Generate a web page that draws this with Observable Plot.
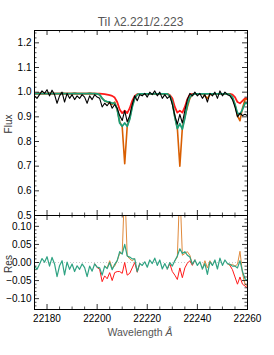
<!DOCTYPE html>
<html><head><meta charset="utf-8">
<script src="https://cdn.jsdelivr.net/npm/d3@7"></script>
<script src="https://cdn.jsdelivr.net/npm/@observablehq/plot@0.6"></script>
<style>
body{margin:0;background:#fff;}
#wrap{position:relative;width:274px;height:355px;font-family:"Liberation Sans",Arial,Helvetica,sans-serif;overflow:hidden;}
#wrap svg{position:absolute;left:0;overflow:visible;}
.t{position:absolute;white-space:nowrap;line-height:1;}
</style></head><body>
<div id="wrap">
<div class="t" id="title" style="left:140.5px;top:16px;transform:translateX(-50%);font-size:12px;color:#555;">TiI λ2.221/2.223</div>
<div class="t" style="left:8.5px;top:124px;transform:translate(-50%,-50%) rotate(-90deg);font-size:10px;color:#333;">Flux</div>
<div class="t" style="left:8.5px;top:264px;transform:translate(-50%,-50%) rotate(-90deg);font-size:10px;color:#333;">Res</div>
<div class="t" style="left:140px;top:327px;transform:translateX(-50%);font-size:10.5px;color:#555;">Wavelength <i>Å</i></div>
</div>
<script>
// ---- data, rows of 10 samples ----
const wavelength = [
  22175,22176,22177,22178,22179,22180,22181,22182,22183,22184,
  22185,22186,22187,22188,22189,22190,22191,22192,22193,22194,
  22195,22196,22197,22198,22199,22200,22201,22202,22203,22204,
  22205,22206,22207,22208,22209,22210,22211,22212,22213,22214,
  22215,22216,22217,22218,22219,22220,22221,22222,22223,22224,
  22225,22226,22227,22228,22229,22230,22231,22232,22233,22234,
  22235,22236,22237,22238,22239,22240,22241,22242,22243,22244,
  22245,22246,22247,22248,22249,22250,22251,22252,22253,22254,
  22255,22256,22257,22258,22259,22260];
const observed = [
  0.985,0.975,0.990,1.005,0.995,1.010,0.985,1.008,0.990,0.955,
  0.985,1.000,0.960,0.995,0.975,0.990,0.970,0.985,0.975,0.990,
  0.980,0.955,0.985,0.970,0.990,0.980,0.975,0.940,0.955,0.945,
  0.960,0.935,0.950,0.935,0.905,0.885,0.925,0.880,0.905,0.950,
  0.985,0.965,0.990,0.985,0.995,0.980,1.000,0.990,1.005,0.985,
  1.000,0.975,0.990,0.975,0.985,0.950,0.905,0.870,0.910,0.875,
  0.925,0.970,0.995,0.985,1.000,0.985,0.995,0.975,0.990,0.960,
  0.995,0.985,1.000,0.975,1.005,0.985,1.000,0.990,0.985,0.970,
  0.940,0.900,0.915,0.905,0.910,0.905];
const modelRed = [
  0.994,0.994,0.995,0.994,0.994,0.994,0.995,0.994,0.994,0.994,
  0.994,0.995,0.994,0.994,0.994,0.994,0.995,0.994,0.994,0.994,
  0.994,0.994,0.995,0.994,0.994,0.994,0.994,0.993,0.992,0.990,
  0.988,0.985,0.978,0.960,0.930,0.915,0.925,0.915,0.935,0.965,
  0.985,0.992,0.993,0.993,0.993,0.993,0.993,0.993,0.993,0.993,
  0.993,0.993,0.993,0.993,0.988,0.975,0.940,0.917,0.925,0.917,
  0.940,0.972,0.990,0.993,0.993,0.993,0.993,0.993,0.993,0.993,
  0.993,0.993,0.993,0.993,0.993,0.993,0.993,0.993,0.993,0.990,
  0.980,0.960,0.955,0.965,0.975,0.975];
const modelOrange = [
  0.994,0.994,0.995,0.994,0.994,0.994,0.995,0.994,0.994,0.994,
  0.994,0.995,0.994,0.994,0.994,0.994,0.995,0.994,0.994,0.994,
  0.994,0.994,0.995,0.994,0.994,0.993,0.990,0.975,0.965,0.960,
  0.955,0.950,0.960,0.930,0.880,0.860,0.710,0.862,0.895,0.945,
  0.975,0.990,0.993,0.993,0.993,0.993,0.993,0.993,0.993,0.993,
  0.993,0.993,0.993,0.993,0.985,0.960,0.900,0.855,0.700,0.855,
  0.900,0.940,0.975,0.990,0.993,0.993,0.993,0.993,0.985,0.975,
  0.990,0.993,0.993,0.993,0.993,0.993,0.993,0.993,0.993,0.975,
  0.950,0.905,0.884,0.935,0.970,0.970];
const modelGreen = [
  0.994,0.994,0.995,0.994,0.994,0.994,0.995,0.994,0.994,0.994,
  0.994,0.995,0.994,0.994,0.994,0.994,0.995,0.994,0.994,0.994,
  0.994,0.994,0.995,0.994,0.994,0.993,0.990,0.975,0.965,0.962,
  0.960,0.955,0.955,0.930,0.875,0.862,0.875,0.862,0.890,0.940,
  0.975,0.990,0.993,0.993,0.993,0.993,0.993,0.993,0.993,0.993,
  0.993,0.993,0.993,0.993,0.985,0.960,0.900,0.852,0.872,0.850,
  0.895,0.950,0.980,0.990,0.993,0.993,0.993,0.993,0.993,0.993,
  0.993,0.993,0.993,0.993,0.993,0.993,0.993,0.993,0.990,0.980,
  0.950,0.915,0.910,0.930,0.955,0.955];

const xMajor = [22180,22200,22220,22240,22260];
const xMinor = [22175,22185,22190,22195,22205,22210,22215,22225,22230,22235,22245,22250,22255];
const fluxMajor = [0.5,0.6,0.7,0.8,0.9,1.0,1.1,1.2];
const fluxMinor = [0.52,0.54,0.56,0.58,0.62,0.64,0.66,0.68,0.72,0.74,0.76,0.78,0.82,0.84,0.86,0.88,0.92,0.94,0.96,0.98,1.02,1.04,1.06,1.08,1.12,1.14,1.16,1.18,1.22,1.24];
const resMajor = [-0.10,-0.05,0.00,0.05,0.10];
const resMinor = [-0.12,-0.11,-0.09,-0.08,-0.07,-0.06,-0.04,-0.03,-0.02,-0.01,0.01,0.02,0.03,0.04,0.06,0.07,0.08,0.09,0.11,0.12];

const colRed = "#ff1a1a", colOrange = "#d95f02", colGreen = "#1b9e77";

// tables built from the arrays (residual = observed - model).
// Where a model coincides with the green model (segment fully hidden under the green trace), it is left out.
const spec = wavelength.map((w, i) => ({w, obs: observed[i], red: modelRed[i], orange: modelOrange[i], green: modelGreen[i]}));
function hidden(model, i) {
  for (let j = i - 1; j <= i + 1; j++) {
    if (j < 0 || j >= model.length) continue;
    if (model[j] !== modelGreen[j]) return false;
  }
  return true;
}
const resid = spec.map((d, i) => ({
  w: d.w,
  rRed: hidden(modelRed, i) ? NaN : d.obs - d.red,
  rOrange: hidden(modelOrange, i) ? NaN : d.obs - d.orange,
  rGreen: d.obs - d.green
}));

const W = 274, ML = 34, MR = 27;
const PW = W - ML - MR;

function frameTicks(yMaj, yMin, ph) {
  return [
    Plot.ruleX(xMajor, {x: d => d, insetBottom: ph - 5, stroke: "#000", strokeWidth: 0.8}),
    Plot.ruleX(xMajor, {x: d => d, insetTop: ph - 5, stroke: "#000", strokeWidth: 0.8}),
    Plot.ruleX(xMinor, {x: d => d, insetBottom: ph - 2.5, stroke: "#000", strokeWidth: 0.7}),
    Plot.ruleX(xMinor, {x: d => d, insetTop: ph - 2.5, stroke: "#000", strokeWidth: 0.7}),
    Plot.ruleY(yMaj, {y: d => d, insetRight: PW - 5, stroke: "#000", strokeWidth: 0.8}),
    Plot.ruleY(yMaj, {y: d => d, insetLeft: PW - 5, stroke: "#000", strokeWidth: 0.8}),
    Plot.ruleY(yMin, {y: d => d, insetRight: PW - 2.5, stroke: "#000", strokeWidth: 0.7}),
    Plot.ruleY(yMin, {y: d => d, insetLeft: PW - 2.5, stroke: "#000", strokeWidth: 0.7}),
    Plot.frame({stroke: "#000", strokeWidth: 1})
  ];
}

const wrapEl = document.getElementById("wrap");

// top panel: spectra
const topH = 216, topMT = 30, topMB = 1;
const ph1 = topH - topMT - topMB;
const fluxPlot = Plot.plot({
  width: W, height: topH,
  marginLeft: ML, marginRight: MR, marginTop: topMT, marginBottom: topMB,
  style: {fontFamily: "Liberation Sans, Arial, sans-serif", fontSize: "10px", color: "#000", background: "transparent"},
  x: {domain: [22175, 22260], axis: null},
  y: {domain: [0.5, 1.25], axis: null},
  marks: [
    Plot.line(spec, {x: "w", y: "red", stroke: colRed, strokeWidth: 1.8, clip: true}),
    Plot.line(spec, {x: "w", y: "orange", stroke: colOrange, strokeWidth: 1.6, clip: true}),
    Plot.line(spec, {x: "w", y: "green", stroke: colGreen, strokeWidth: 1.8, clip: true}),
    Plot.line(spec, {x: "w", y: "obs", stroke: "#000", strokeWidth: 1.1, clip: true}),
    ...frameTicks(fluxMajor, fluxMinor, ph1),
    Plot.axisY(fluxMajor, {anchor: "left", tickSize: 0, tickPadding: 3, tickFormat: d3.format(".1f"), label: null, fontSize: 10})
  ]
});
fluxPlot.style.top = "0px";
wrapEl.appendChild(fluxPlot);

// bottom panel: residuals
const botTop = 210, botH = 355 - botTop, botMT = 5, botMB = 46;
const ph2 = botH - botMT - botMB;
const resPlot = Plot.plot({
  width: W, height: botH,
  marginLeft: ML, marginRight: MR, marginTop: botMT, marginBottom: botMB,
  style: {fontFamily: "Liberation Sans, Arial, sans-serif", fontSize: "10px", color: "#000", background: "transparent"},
  x: {domain: [22175, 22260], axis: null},
  y: {domain: [-0.13, 0.13], axis: null},
  marks: [
    Plot.ruleY([0], {stroke: "#bbb", strokeDasharray: "1,2", strokeWidth: 0.8}),
    Plot.line(resid, {x: "w", y: "rRed", stroke: colRed, strokeWidth: 1.0, clip: true}),
    Plot.line(resid, {x: "w", y: "rOrange", stroke: "#e08a3c", strokeWidth: 1.0, clip: true}),
    Plot.line(resid, {x: "w", y: "rGreen", stroke: "#2fa383", strokeWidth: 1.2, clip: true}),
    ...frameTicks(resMajor, resMinor, ph2),
    Plot.axisY(resMajor, {anchor: "left", tickSize: 0, tickPadding: 3, tickFormat: d3.format(".2f"), label: null, fontSize: 10}),
    Plot.axisX(xMajor, {anchor: "bottom", tickSize: 0, tickPadding: 5, tickFormat: d => String(d), label: null, fontSize: 10})
  ]
});
resPlot.style.top = botTop + "px";
wrapEl.appendChild(resPlot);
</script>
</body></html>
